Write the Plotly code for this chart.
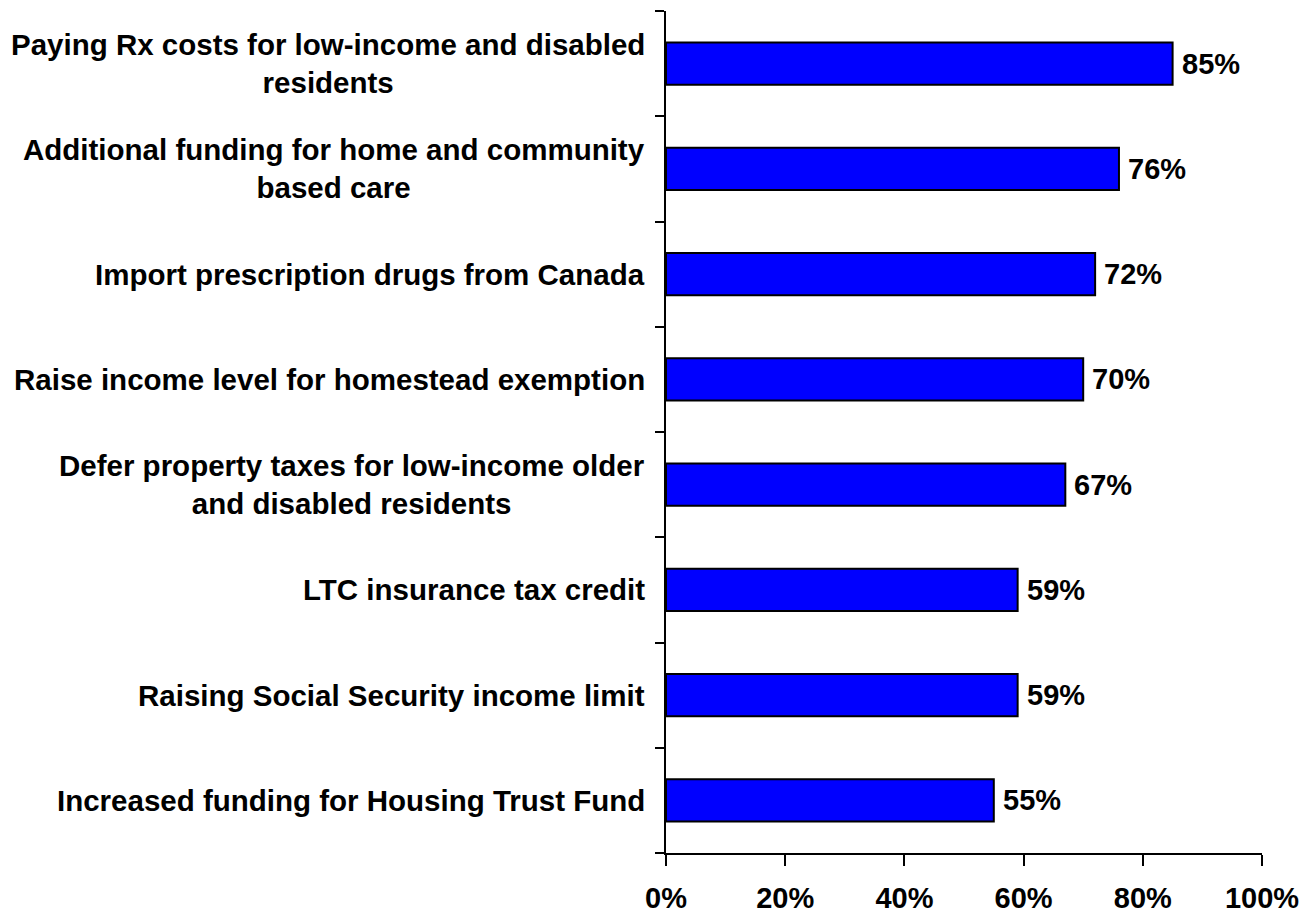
import plotly.graph_objects as go

# Survey results: share supporting each policy option
categories = [
    "Paying Rx costs for low-income and disabled<br>residents",
    "Additional funding for home and community<br>based care",
    "Import prescription drugs from Canada",
    "Raise income level for homestead exemption",
    "Defer property taxes for low-income older<br>and disabled residents",
    "LTC insurance tax credit",
    "Raising Social Security income limit",
    "Increased funding for Housing Trust Fund",
]
values = [85, 76, 72, 70, 67, 59, 59, 55]
x_ticks = [0, 20, 40, 60, 80, 100]
x_tick_labels = ["0%", "20%", "40%", "60%", "80%", "100%"]

FONT = "Arial, 'Liberation Sans', sans-serif"
positions = list(range(len(categories)))

fig = go.Figure(
    go.Bar(
        x=values,
        y=positions,
        orientation="h",
        width=0.4,
        marker=dict(color="#0000FF", line=dict(color="black", width=2)),
        cliponaxis=False,
    )
)

# Value labels just past each bar end
for pos, v in zip(positions, values):
    fig.add_annotation(
        x=v, xref="x", y=pos, yref="y",
        text=f"{v}%", showarrow=False,
        xanchor="left", yanchor="middle", xshift=7,
        font=dict(family=FONT, size=29, color="black", weight="bold"),
    )

# Category labels: right-aligned block, lines centred within it
for pos, label in zip(positions, categories):
    fig.add_annotation(
        x=0, xref="paper", y=pos, yref="y",
        text=label, showarrow=False,
        xanchor="right", yanchor="middle", align="center",
        xshift=-19,
        font=dict(family=FONT, size=29.5, color="black", weight="bold"),
    )

fig.update_layout(
    width=1315, height=914,
    margin=dict(l=666, r=53, t=11, b=61, autoexpand=False),
    paper_bgcolor="white", plot_bgcolor="white",
    showlegend=False,
    font=dict(family=FONT, size=29, color="black"),
)
fig.update_xaxes(
    range=[0, 100],
    tickvals=x_ticks, ticktext=x_tick_labels,
    ticks="outside", ticklen=11, tickwidth=2, tickcolor="black",
    ticklabelstandoff=7,
    automargin=False,
    showline=True, linecolor="black", linewidth=2,
    showgrid=False, zeroline=False,
    tickfont=dict(family=FONT, size=29, color="black", weight="bold"),
)
fig.update_yaxes(
    range=[len(categories) - 0.5, -0.5],
    tickvals=[p - 0.5 for p in positions] + [len(categories) - 0.5],
    showticklabels=False,
    automargin=False,
    ticks="outside", ticklen=9, tickwidth=2, tickcolor="black",
    showline=True, linecolor="black", linewidth=2,
    showgrid=False, zeroline=False,
)

fig.write_html("out.html")
